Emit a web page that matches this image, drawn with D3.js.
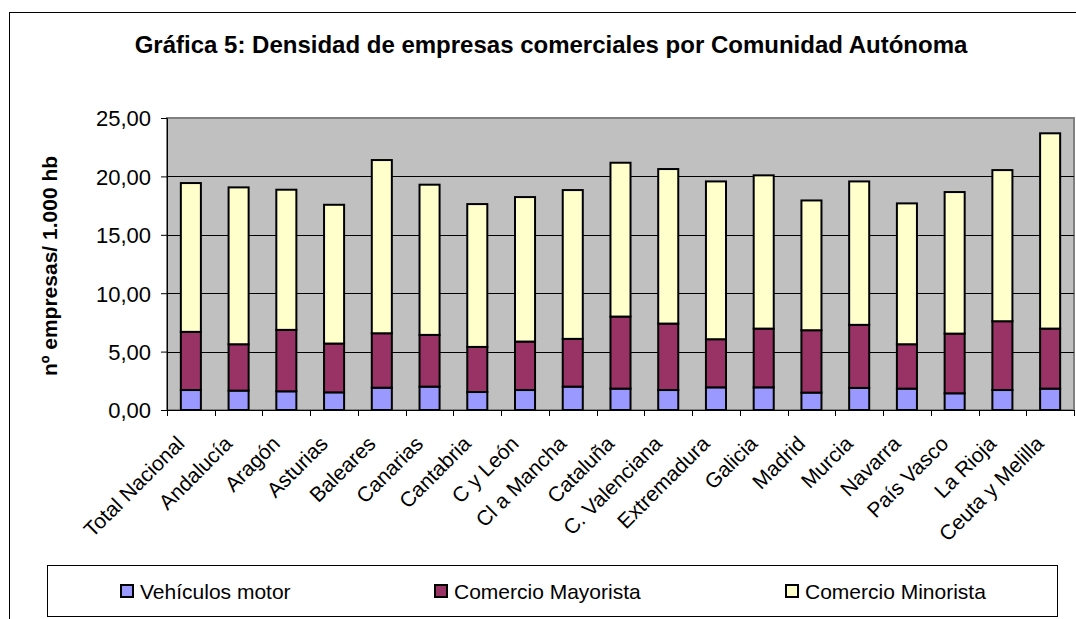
<!DOCTYPE html>
<html>
<head>
<meta charset="utf-8">
<script src="https://cdn.jsdelivr.net/npm/d3@7"></script>
<style>
  html, body { margin: 0; padding: 0; background: #fff; overflow: hidden; }
  text { font-family: "Liberation Sans", Arial, sans-serif; fill: #000; }
</style>
</head>
<body>
<svg id="chart" width="1076" height="619"></svg>
<script>
// datos
var comunidades = ["Total Nacional", "Andalucía", "Aragón", "Asturias", "Baleares", "Canarias",
  "Cantabria", "C y León", "Cl a Mancha", "Cataluña", "C. Valenciana", "Extremadura",
  "Galicia", "Madrid", "Murcia", "Navarra", "País Vasco", "La Rioja", "Ceuta y Melilla"];
var vehiculos = [1.71, 1.66, 1.60, 1.51, 1.91, 2.00, 1.54, 1.71, 2.00, 1.83, 1.71, 1.94,
  1.94, 1.49, 1.89, 1.83, 1.43, 1.71, 1.83];
var mayorista = [4.98, 3.97, 5.26, 4.18, 4.66, 4.43, 3.86, 4.15, 4.09, 6.17, 5.69, 4.12,
  5.03, 5.34, 5.40, 3.80, 5.11, 5.89, 5.14];
var minorista = [12.74, 13.43, 12.00, 11.88, 14.83, 12.86, 12.23, 12.37, 12.74, 13.17, 13.23, 13.51,
  13.12, 11.11, 12.28, 12.06, 12.12, 12.94, 16.72];
var series = ["Vehículos motor", "Comercio Mayorista", "Comercio Minorista"];
var colores = ["#9999ff", "#993366", "#ffffcc"];
var yTicks = [0, 5, 10, 15, 20, 25];

var svg = d3.select("#chart");
var plot = {left: 167, top: 118, right: 1074, bottom: 410};

// marco exterior
svg.append("rect")
  .attr("x", 9.5).attr("y", 12.5)
  .attr("width", 1100).attr("height", 700)
  .attr("fill", "#fff").attr("stroke", "#000").attr("stroke-width", 1);

svg.append("text")
  .attr("x", 551).attr("y", 53)
  .attr("text-anchor", "middle")
  .style("font-size", "24px").style("font-weight", "bold")
  .text("Gráfica 5: Densidad de empresas comerciales por Comunidad Autónoma");

var x = d3.scaleBand().domain(comunidades).range([plot.left, plot.right]).paddingInner(0.58).paddingOuter(0.29);
var band = d3.scaleBand().domain(comunidades).range([plot.left, plot.right]);
var y = d3.scaleLinear().domain([0, 25]).range([plot.bottom, plot.top]);

svg.append("rect")
  .attr("x", plot.left).attr("y", plot.top)
  .attr("width", plot.right - plot.left).attr("height", plot.bottom - plot.top)
  .attr("fill", "#c0c0c0").attr("stroke", "#808080").attr("stroke-width", 2);

// rejilla
svg.append("g").selectAll("line")
  .data(yTicks.filter(function(d) { return d > 0 && d < 25; }))
  .join("line")
  .attr("x1", plot.left).attr("x2", plot.right)
  .attr("y1", function(d) { return Math.round(y(d)) + 0.5; })
  .attr("y2", function(d) { return Math.round(y(d)) + 0.5; })
  .attr("stroke", "#000").attr("stroke-width", 1);

// barras apiladas
var datos = comunidades.map(function(c, i) {
  return {cat: c, "Vehículos motor": vehiculos[i], "Comercio Mayorista": mayorista[i], "Comercio Minorista": minorista[i]};
});
var stack = d3.stack().keys(series)(datos);

svg.append("g").selectAll("g")
  .data(stack)
  .join("g")
  .attr("fill", function(d, i) { return colores[i]; })
  .selectAll("rect")
  .data(function(d) { return d; })
  .join("rect")
  .attr("x", function(d) { return x(d.data.cat); })
  .attr("width", x.bandwidth())
  .attr("y", function(d) { return y(d[1]); })
  .attr("height", function(d) { return y(d[0]) - y(d[1]); })
  .attr("stroke", "#000").attr("stroke-width", 2);

// eje Y
var yAxis = svg.append("g")
  .attr("transform", "translate(" + plot.left + ",0)")
  .call(d3.axisLeft(y).tickValues(yTicks).tickSize(6).tickPadding(10)
    .tickFormat(function(d) { return d3.format(".2f")(d).replace(".", ","); }));
yAxis.select(".domain").attr("stroke", "#000");
yAxis.selectAll("text").style("font-size", "22px").attr("dy", "0.36em");

// eje X con marcas entre categorías
var xAxis = svg.append("g");
xAxis.append("line")
  .attr("x1", plot.left).attr("x2", plot.right)
  .attr("y1", plot.bottom + 0.5).attr("y2", plot.bottom + 0.5)
  .attr("stroke", "#000");
xAxis.selectAll("line.tk")
  .data(comunidades.concat([null]))
  .join("line")
  .attr("class", "tk")
  .attr("x1", function(d, i) { return Math.round(plot.left + i * band.step()) + 0.5; })
  .attr("x2", function(d, i) { return Math.round(plot.left + i * band.step()) + 0.5; })
  .attr("y1", plot.bottom).attr("y2", plot.bottom + 6)
  .attr("stroke", "#000");
xAxis.selectAll("text")
  .data(comunidades)
  .join("text")
  .attr("transform", function(d) {
    return "translate(" + (band(d) + band.bandwidth() / 2 - 5) + ",445) rotate(-45)";
  })
  .attr("text-anchor", "end")
  .style("font-size", "21px")
  .text(function(d) { return d; });

// título eje Y
svg.append("text")
  .attr("transform", "translate(57,266) rotate(-90)")
  .attr("text-anchor", "middle")
  .style("font-size", "21px").style("font-weight", "bold")
  .text("nº empresas/ 1.000 hb");

// leyenda
svg.append("rect")
  .attr("x", 47.5).attr("y", 565.5).attr("width", 1010).attr("height", 51)
  .attr("fill", "#fff").attr("stroke", "#000");
var legX = [121, 435, 786];
var leg = svg.append("g").selectAll("g")
  .data(series)
  .join("g")
  .attr("transform", function(d, i) { return "translate(" + legX[i] + ",585)"; });
leg.append("rect")
  .attr("width", 12).attr("height", 12)
  .attr("fill", function(d, i) { return colores[i]; })
  .attr("stroke", "#000").attr("stroke-width", 2);
leg.append("text")
  .attr("x", 19).attr("y", 6).attr("dy", "0.36em")
  .style("font-size", "21px")
  .text(function(d) { return d; });
</script>
</body>
</html>
